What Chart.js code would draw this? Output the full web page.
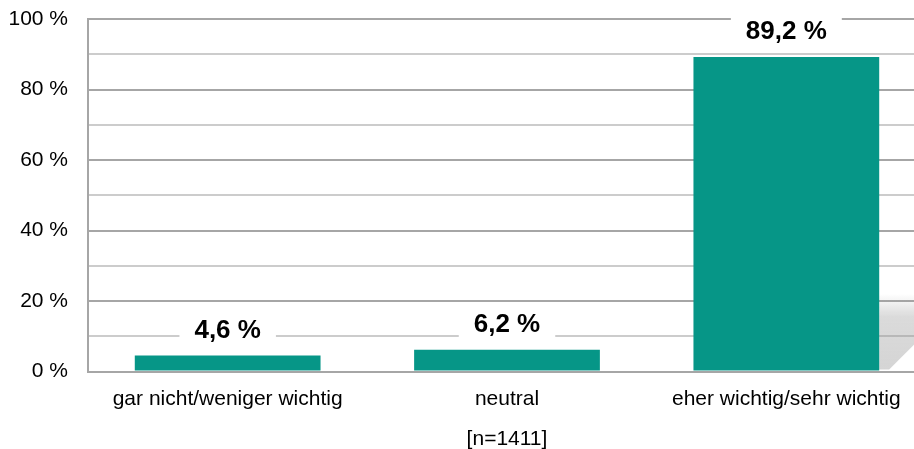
<!DOCTYPE html>
<html>
<head>
<meta charset="utf-8">
<script src="https://cdn.jsdelivr.net/npm/chart.js@4"></script>
<style>
    html, body { margin: 0; padding: 0; background: #ffffff; overflow: hidden; }
    #wrap { width: 926px; height: 449px; position: relative; }
</style>
</head>
<body>
<div id="wrap"><canvas id="chart"></canvas></div>
<script>
// Chart data
const categories = ['gar nicht/weniger wichtig', 'neutral', 'eher wichtig/sehr wichtig'];
const shares = [4.6, 6.2, 89.2];
const yTicks = [0, 20, 40, 60, 80, 100];
const sampleLabel = '[n=1411]';

const FONT = '"Liberation Sans", Arial, sans-serif';

// Soft grey shadow to the right of the tall bar (like the original's 3D effect)
const barShadow = {
    id: 'barShadow',
    beforeDatasetsDraw(chart) {
        const ctx = chart.ctx;
        const bar = chart.getDatasetMeta(0).data[2];
        const y = chart.scales.y;
        const x0 = bar.x + bar.width / 2;
        const x1 = x0 + 40;
        const top = y.getPixelForValue(22);
        const base = y.getPixelForValue(0) - 2;
        const g = ctx.createLinearGradient(0, top, 0, base);
        g.addColorStop(0, 'rgba(150,150,150,0)');
        g.addColorStop(0.3, 'rgba(150,150,150,0.35)');
        g.addColorStop(1, 'rgba(150,150,150,0.4)');
        ctx.save();
        ctx.fillStyle = g;
        ctx.beginPath();
        ctx.moveTo(x0, top);
        ctx.lineTo(x1, top);
        ctx.lineTo(x1, base - 30);
        ctx.lineTo(x1 - 30, base);
        ctx.lineTo(x0, base);
        ctx.closePath();
        ctx.fill();
        ctx.restore();
    }
};

// Bold value labels with white box above each bar
const valueLabels = {
    id: 'valueLabels',
    afterDatasetsDraw(chart) {
        const ctx = chart.ctx;
        const meta = chart.getDatasetMeta(0);
        ctx.save();
        ctx.font = 'bold 26px ' + FONT;
        ctx.textAlign = 'center';
        ctx.textBaseline = 'middle';
        meta.data.forEach((bar, i) => {
            const text = shares[i].toFixed(1).replace('.', ',') + ' %';
            const y = bar.y - 25;
            const w = ctx.measureText(text).width + 30;
            ctx.fillStyle = '#ffffff';
            ctx.fillRect(bar.x - w / 2, y - 16, w, 32);
            ctx.fillStyle = '#000000';
            ctx.fillText(text, bar.x, y);
        });
        ctx.restore();
    }
};

new Chart(document.getElementById('chart'), {
    type: 'bar',
    data: {
        labels: categories,
        datasets: [{
            data: shares,
            backgroundColor: '#069687',
            barPercentage: 0.665,
            categoryPercentage: 1
        }]
    },
    options: {
        responsive: true,
        maintainAspectRatio: false,
        animation: false,
        layout: { padding: { top: 19, left: 0, right: 0, bottom: -3 } },
        plugins: {
            legend: { display: false },
            tooltip: { enabled: false }
        },
        scales: {
            x: {
                grid: { display: false, drawTicks: false },
                border: { color: '#a6a6a6', width: 2 },
                ticks: { color: '#000000', font: { family: FONT, size: 21 }, padding: 15 },
                title: {
                    display: true,
                    text: sampleLabel,
                    color: '#000000',
                    font: { family: FONT, size: 21 },
                    padding: { top: 0, bottom: 0 }
                }
            },
            y: {
                min: 0,
                max: 100,
                afterFit: (scale) => {
                    scale.width = 88;
                    scale.paddingTop = 0;
                    scale.paddingBottom = 0;
                },
                ticks: {
                    stepSize: 10,
                    color: '#000000',
                    font: { family: FONT, size: 21 },
                    padding: 20,
                    callback: (v) => yTicks.includes(v) ? v + ' %' : ''
                },
                grid: {
                    drawTicks: false,
                    lineWidth: 2,
                    color: (c) => (c.tick && c.tick.value % 20 === 0) ? '#a6a6a6' : '#cccccc'
                },
                border: { color: '#a6a6a6', width: 2 }
            }
        }
    },
    plugins: [barShadow, valueLabels]
});
</script>
</body>
</html>
